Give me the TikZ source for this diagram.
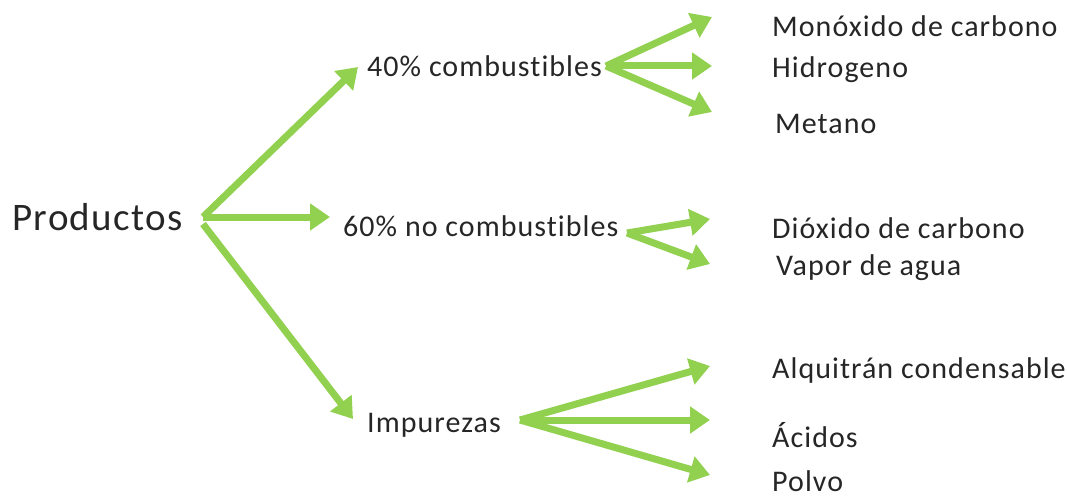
\documentclass[tikz,border=0pt]{standalone}
\usepackage{fontspec}
\setmainfont[Ligatures=CommonOff,LetterSpace=3.5]{Carlito}
\usetikzlibrary{arrows.meta}
\definecolor{lgreen}{HTML}{92D050}
\tikzset{
  arr/.style={draw=lgreen, line width=7pt, -{Triangle[length=20pt,width=26pt]}},
  lbl/.style={anchor=west, inner sep=0pt, font=\fontsize{30}{34}\selectfont, text=black!85},
  big/.style={anchor=west, inner sep=0pt, font=\fontsize{39}{45}\selectfont, text=black!85}
}
\begin{document}
\begin{tikzpicture}[x=1pt,y=-1pt]
\useasboundingbox (0,0) rectangle (1067,497);
% nodes
\node[big] (prod) at (12,217) {Productos};
\node[lbl] (c40) at (367,66) {40\% combustibles};
\node[lbl] (c60) at (343,226) {60\% no combustibles};
\node[lbl] (imp) at (367,425) {Impurezas};
\node[lbl] (mon) at (772,26) {Monóxido de carbono};
\node[lbl] (hid) at (772,70) {Hidrogeno};
\node[lbl] (met) at (775,124) {Metano};
\node[lbl] (dio) at (772,228) {Dióxido de carbono};
\node[lbl] (vap) at (776,268) {Vapor de agua};
\node[lbl] (alq) at (772,370) {Alquitrán condensable};
\node[lbl] (aci) at (772,435) {Ácidos};
\node[lbl] (pol) at (772,481) {Polvo};
% hubs and tips
\coordinate (hP) at (203,217);
\coordinate (hPb) at (203,224);
\coordinate (t40) at (358,67);
\coordinate (t60) at (330,217);
\coordinate (tim) at (353,419);
\coordinate (h40) at (606,66);
\coordinate (tmon) at (712,17);
\coordinate (thid) at (712,66);
\coordinate (tmet) at (712,112);
\coordinate (h60) at (627,233);
\coordinate (tdio) at (710,219);
\coordinate (tvap) at (710,264);
\coordinate (him) at (520,420);
\coordinate (talq) at (710,366);
\coordinate (taci) at (710,420);
\coordinate (tpol) at (710,475);
% arrows
\draw[arr] (hP) -- (t40);
\draw[arr] (hP) -- (t60);
\draw[arr] (hPb) -- (tim);
\draw[arr] (h40) -- (tmon);
\draw[arr] (h40) -- (thid);
\draw[arr] (h40) -- (tmet);
\draw[arr] (h60) -- (tdio);
\draw[arr] (h60) -- (tvap);
\draw[arr] (him) -- (talq);
\draw[arr] (him) -- (taci);
\draw[arr] (him) -- (tpol);
\end{tikzpicture}
\end{document}
